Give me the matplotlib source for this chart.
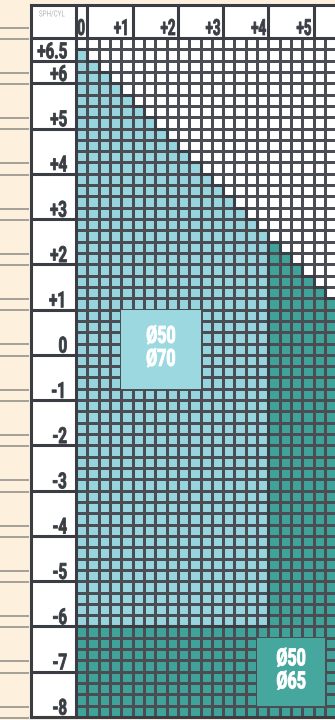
import numpy as np
import matplotlib
matplotlib.use("Agg")
import matplotlib.pyplot as plt
from matplotlib.collections import LineCollection
from matplotlib.colors import ListedColormap
from matplotlib.patches import Rectangle
from matplotlib.patheffects import AbstractPathEffect
from matplotlib.transforms import Affine2D

# ---- lens range data -------------------------------------------------------
step = 0.25
cyl_values = np.arange(0.0, 6.0 + step / 2, step)      # columns: CYL 0 .. +6
sph_values = np.arange(-8.0, 6.75 + step / 2, step)    # rows: SPH -8 .. +6.75
max_total_power = 6.5     # SPH + CYL may not exceed this
cyl_limit_70 = 4.0        # Ø70 available up to this CYL ...
sph_limit_70 = -6.0       # ... and down to this SPH

sph_ticks = [6.5, 6, 5, 4, 3, 2, 1, 0, -1, -2, -3, -4, -5, -6, -7, -8]
sph_labels = ["+6.5", "+6", "+5", "+4", "+3", "+2", "+1", "0",
              "-1", "-2", "-3", "-4", "-5", "-6", "-7", "-8"]
cyl_ticks = [0, 1, 2, 3, 4, 5]
cyl_labels = ["0", "+1", "+2", "+3", "+4", "+5"]

zone_labels = ["Ø50\nØ70", "Ø50\nØ65"]
zone_boxes = [(1.0, -0.75, 1.75, 1.75), (4.0, -7.75, 1.5, 1.5)]  # x, y, w, h

# ---- style -----------------------------------------------------------------
BEIGE = "#fdf1de"
PAPER_LINE = "#8e8b85"
INK = "#3a3e44"
GRID = "#4a4e54"
LIGHT = "#96d5de"
LIGHT_BOX = "#9cd8e0"
DARK = "#40a399"
DARK_BOX = "#45a79e"
FONT = ["Roboto", "DejaVu Sans"]
THICK = 2.2
THIN = 0.75


class Condensed(AbstractPathEffect):
    """Squeeze glyph outlines horizontally around an anchor of each line,
    optionally with a thin outline in the text colour to add weight."""

    def __init__(self, sx=0.78, anchor="right", stroke=0.0):
        super().__init__()
        self.sx = sx
        self.anchor = anchor
        self.stroke = stroke

    def draw_path(self, renderer, gc, tpath, affine, rgbFace=None):
        if len(tpath.vertices) == 0:
            return
        ext = tpath.get_extents()
        if self.anchor == "right":
            ref = ext.x1
        elif self.anchor == "center":
            ref = 0.5 * (ext.x0 + ext.x1)
        else:
            ref = 0.0
        squeeze = Affine2D().translate(-ref, 0).scale(self.sx, 1).translate(ref, 0)
        if self.stroke > 0 and rgbFace is not None:
            gc0 = renderer.new_gc()
            gc0.copy_properties(gc)
            gc0.set_linewidth(self.stroke)
            gc0.set_foreground(rgbFace)
            gc0.set_joinstyle("round")
            renderer.draw_path(gc0, tpath, squeeze + affine, rgbFace)
            gc0.restore()
        else:
            renderer.draw_path(gc, tpath, squeeze + affine, rgbFace)


fig = plt.figure(figsize=(3.35, 7.2), dpi=100, facecolor=BEIGE)
ax = fig.add_axes([0, 0, 1, 1])
ax.set_facecolor(BEIGE)
ax.set_xlim(-1.678, 5.720)
ax.set_ylim(-8.066, 7.839)
ax.axis("off")

top_grid = sph_values[-1] + step          # 7.0
header_top = 7.72
label_left = -1.0
x_right = cyl_values[-1] + step

# ---- availability matrix: 0 none, 1 Ø50/Ø70, 2 Ø50/Ø65 -----------------------
C, S = np.meshgrid(cyl_values, sph_values)
zone = np.where(S + C > max_total_power + 1e-9, 0,
                np.where((C <= cyl_limit_70 + 1e-9) & (S >= sph_limit_70 - 1e-9), 1, 2))

x_edges = np.append(cyl_values, cyl_values[-1] + step)
y_edges = np.append(sph_values, sph_values[-1] + step)
ax.pcolormesh(x_edges, y_edges, zone, cmap=ListedColormap(["white", LIGHT, DARK]),
              vmin=-0.5, vmax=2.5, edgecolors=GRID, linewidth=THIN, zorder=1)

# zone name boxes
for (bx, by, bw, bh), txt, fc in zip(zone_boxes, zone_labels, [LIGHT_BOX, DARK_BOX]):
    ax.add_patch(Rectangle((bx, by), bw, bh, facecolor=fc, edgecolor="none", zorder=2))
    ax.text(bx + bw / 2, by + bh / 2 + 0.03, txt, ha="center", va="center",
            color="white", fontsize=17, fontweight="bold", family=FONT,
            linespacing=1.0, zorder=3,
            path_effects=[Condensed(0.68, "center", stroke=0.7)])

# thick outlines wherever two neighbouring cells belong to different zones
segs = []
ny, nx = zone.shape
for i in range(ny):
    for j in range(nx):
        if j + 1 < nx and zone[i, j] != zone[i, j + 1]:
            segs.append([(x_edges[j + 1], y_edges[i]), (x_edges[j + 1], y_edges[i + 1])])
        if i + 1 < ny and zone[i, j] != zone[i + 1, j]:
            segs.append([(x_edges[j], y_edges[i + 1]), (x_edges[j + 1], y_edges[i + 1])])
ax.add_collection(LineCollection(segs, colors=INK, linewidths=THICK,
                                 capstyle="projecting", zorder=4))

# ---- ruled paper strip on the left -----------------------------------------
for n in range(7, -9, -1):
    for yy in (n, n + 0.25):
        ax.plot([-1.678, label_left - 0.03], [yy - 0.02, yy - 0.02], color=PAPER_LINE,
                lw=1.1, solid_capstyle="butt", zorder=1)

# ---- SPH label column and CYL header row -------------------------------------
ax.add_patch(Rectangle((label_left, sph_values[0]), -label_left, header_top - sph_values[0],
                       facecolor="white", edgecolor="none", zorder=1))
ax.add_patch(Rectangle((label_left, top_grid), x_right + 1 - label_left, header_top - top_grid,
                       facecolor="white", edgecolor="none", zorder=1))

frame = []
frame.append([(label_left, header_top), (x_right + 1, header_top)])
frame.append([(label_left, top_grid), (x_right + 1, top_grid)])
frame.append([(label_left, sph_values[0]), (x_right + 1, sph_values[0])])
frame.append([(label_left, sph_values[0]), (label_left, header_top)])
frame.append([(0, sph_values[0]), (0, header_top)])

# SPH groups: each label sits at the bottom of its block of rows
for t, lab in zip(sph_ticks, sph_labels):
    frame.append([(label_left, t), (0, t)])
    ax.text(-0.19, t + 0.05, lab, ha="right", va="baseline", color=INK,
            fontsize=16, fontweight="bold", family=FONT, zorder=5,
            path_effects=[Condensed(0.68, "right", stroke=0.6)])

# CYL groups: each label sits at the right of its block of columns
for t, lab in zip(cyl_ticks, cyl_labels):
    right = t + step
    frame.append([(right, top_grid), (right, header_top)])
    ax.text(right - 0.045, top_grid + 0.066, lab, ha="right", va="baseline",
            color=INK, fontsize=16, fontweight="bold", family=FONT, zorder=5,
            path_effects=[Condensed(0.6, "right", stroke=0.6)])
frame.append([(x_right, top_grid), (x_right, header_top)])

ax.add_collection(LineCollection(frame, colors=INK, linewidths=THICK,
                                 capstyle="projecting", zorder=4))

ax.text(-0.53, 7.52, "SPH/CYL", ha="center", va="center", color="#b3b3b3",
        fontsize=6, family=FONT, zorder=5,
        path_effects=[Condensed(0.75, "center")])

fig.savefig("out.png", dpi=100, facecolor=BEIGE)
